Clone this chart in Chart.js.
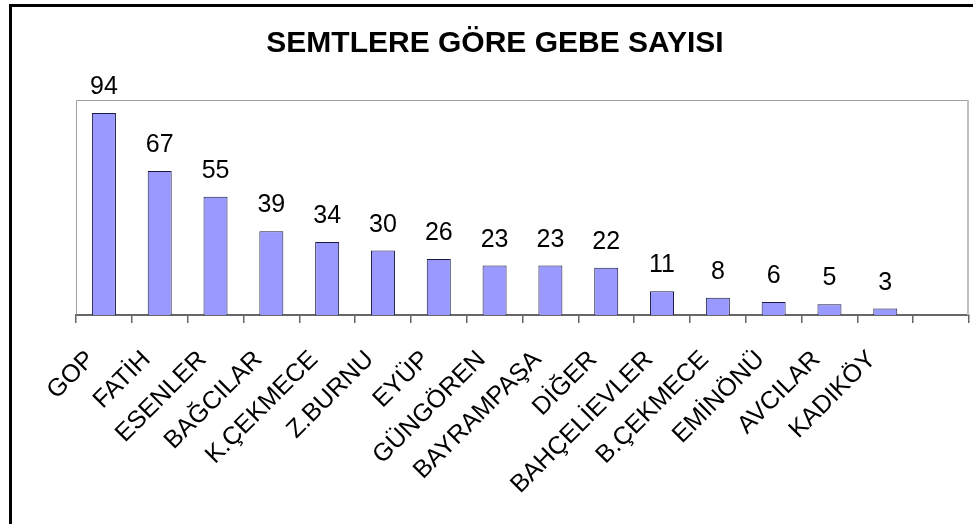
<!DOCTYPE html>
<html>
<head>
<meta charset="utf-8">
<script src="https://cdn.jsdelivr.net/npm/chart.js@4/dist/chart.umd.min.js"></script>
<style>
body{margin:0;background:#fff;}
#wrap{position:relative;width:973px;height:524px;overflow:hidden;}
#frame{position:absolute;left:9px;top:4px;right:-10px;bottom:-10px;border-left:3px solid #000;border-top:3px solid #000;}
#title{position:absolute;left:0;width:990px;top:25px;text-align:center;font:bold 30px "Liberation Sans",Arial,sans-serif;color:#000;}
canvas{position:absolute;left:0;top:0;}
</style>
</head>
<body>
<div id="wrap">
<canvas id="c" width="973" height="524"></canvas>
<div id="frame"></div>
<div id="title">SEMTLERE GÖRE GEBE SAYISI</div>
</div>
<script>
const districts=["GOP","FATİH","ESENLER","BAĞCILAR","K.ÇEKMECE","Z.BURNU","EYÜP","GÜNGÖREN","BAYRAMPAŞA","DİĞER","BAHÇELİEVLER","B.ÇEKMECE","EMİNÖNÜ","AVCILAR","KADIKÖY",""];
const counts=[94,67,55,39,34,30,26,23,23,22,11,8,6,5,3,null];
const yMin=0, yMax=100;

// value labels above bars
const valueLabels={
  id:"valueLabels",
  afterDatasetsDraw(chart){
    const ctx=chart.ctx;
    const meta=chart.getDatasetMeta(0);
    ctx.save();
    ctx.font='25px "Liberation Sans", Arial, sans-serif';
    ctx.fillStyle="#000";
    ctx.textAlign="center";
    ctx.textBaseline="alphabetic";
    meta.data.forEach((bar,i)=>{
      if(counts[i]==null) return;
      ctx.fillText(String(counts[i]),bar.x,bar.y-19);
    });
    ctx.restore();
  }
};

// plot area frame (grey)
const plotFrame={
  id:"plotFrame",
  beforeDatasetsDraw(chart){
    const a=chart.chartArea, ctx=chart.ctx;
    ctx.save();
    ctx.strokeStyle="#a0a0a0";
    ctx.lineWidth=1;
    ctx.beginPath();
    ctx.moveTo(a.left+0.5,a.bottom);
    ctx.lineTo(a.left+0.5,a.top+0.5);
    ctx.lineTo(a.right,a.top+0.5);
    ctx.stroke();
    ctx.strokeStyle="#c0c0c0";
    ctx.lineWidth=2;
    ctx.beginPath();
    ctx.moveTo(a.right-1,a.top);
    ctx.lineTo(a.right-1,a.bottom);
    ctx.stroke();
    ctx.restore();
  }
};

new Chart(document.getElementById("c"),{
  type:"bar",
  data:{
    labels:districts,
    datasets:[{
      data:counts,
      backgroundColor:"#9999ff",
      borderColor:"#1a1a40",
      borderWidth:1,
      barPercentage:0.43,
      categoryPercentage:1
    }]
  },
  options:{
    responsive:false,
    animation:false,
    layout:{padding:{left:76,right:4,top:100,bottom:0}},
    plugins:{legend:{display:false},title:{display:false},tooltip:{enabled:false}},
    scales:{
      y:{display:false,min:yMin,max:yMax},
      x:{
        grid:{drawOnChartArea:false,drawTicks:true,tickLength:8,color:"#666",lineWidth:1.5,offset:true},
        border:{display:true,color:"#666",width:2},
        ticks:{
          autoSkip:false,maxRotation:45,minRotation:45,
          padding:22,labelOffset:-13,color:"#000",
          font:{family:'"Liberation Sans", Arial, sans-serif',size:25}
        },
        afterFit(scale){
          scale.paddingLeft=0;
          scale.paddingRight=0;
          scale.height=209;
        }
      }
    }
  },
  plugins:[plotFrame,valueLabels]
});
</script>
</body>
</html>
